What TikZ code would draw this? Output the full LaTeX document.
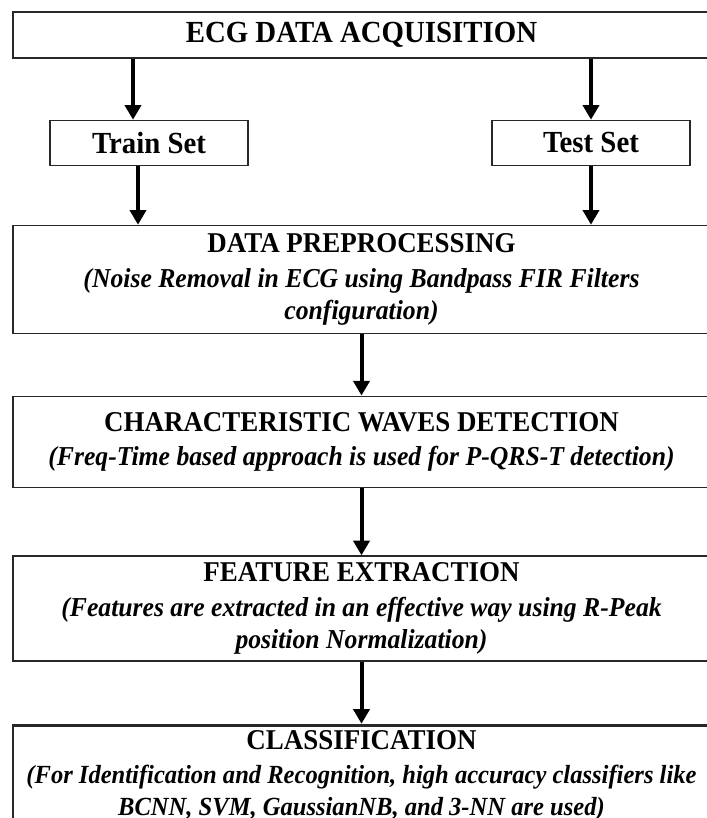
\documentclass[tikz,border=0pt]{standalone}
\usepackage{fontspec}
\setmainfont{Liberation Serif}[FakeStretch=0.94]
\usetikzlibrary{positioning,arrows.meta}
\definecolor{BoxLine}{RGB}{40,40,40}
\newcommand{\subline}{\fontsize{20.5}{24}\selectfont\bfseries\itshape}
\newcommand{\smallsubline}{\fontsize{19.6}{23}\selectfont\bfseries\itshape}

\begin{document}
\begin{tikzpicture}[
    x=0.75pt, y=-0.75pt,
    stagebox/.style={rectangle, draw=BoxLine, line width=1.1pt, fill=white,
                 minimum width=522.75pt, inner sep=0pt, align=center,
                 font=\fontsize{21.5}{24}\selectfont\bfseries},
    setbox/.style={rectangle, draw=BoxLine, line width=1.1pt, fill=white,
                 minimum width=148.5pt, minimum height=33.75pt, inner sep=0pt,
                 font=\fontsize{23}{24}\selectfont\bfseries},
    arrow/.style={-{Triangle[length=11pt,width=12pt]}, line width=3pt}
]
    \useasboundingbox (0,0) rectangle (707,818);
    \node[stagebox, minimum height=34.5pt, font=\fontsize{23}{24}\selectfont\bfseries] at (361.5,35) (acq) {ECG DATA ACQUISITION};
    \node[setbox, below=45.75pt of acq.south west, anchor=north west, xshift=27.75pt] (train) {Train Set};
    \node[setbox, below=45.75pt of acq.south east, anchor=north east, xshift=-15pt] (test) {Test Set};
    \node[stagebox, minimum height=81pt, below=124.5pt of acq] (prep)
        {DATA PREPROCESSING\\[2pt]
         \subline (Noise Removal in ECG using Bandpass FIR Filters\\ \subline configuration)};
    \node[stagebox, minimum height=68.25pt, below=46pt of prep] (waves)
        {CHARACTERISTIC WAVES DETECTION\\[2pt]
         \subline (Freq-Time based approach is used for P-QRS-T detection)};
    \node[stagebox, minimum height=78.75pt, below=50.5pt of waves] (feat)
        {FEATURE EXTRACTION\\[2pt]
         \subline (Features are extracted in an effective way using R-Peak\\ \subline position Normalization)};
    \node[stagebox, line width=2.2pt, minimum height=76pt, below=46.5pt of feat] (cls)
        {CLASSIFICATION\\[1pt]
         \smallsubline (For Identification and Recognition, high accuracy classifiers like\\ \smallsubline BCNN, SVM, GaussianNB, and 3-NN are used)};
    \draw[arrow] ([xshift=-12pt]train.north |- acq.south) -- ([xshift=-12pt]train.north);
    \draw[arrow] (test.north |- acq.south) -- (test.north);
    \draw[arrow] ([xshift=-8.25pt]train.south) -- ([xshift=-8.25pt]train.south |- prep.north);
    \draw[arrow] (test.south) -- (test.south |- prep.north);
    \draw[arrow] (prep) -- (waves);
    \draw[arrow] (waves) -- (feat);
    \draw[arrow] (feat) -- (cls);
\end{tikzpicture}
\end{document}
